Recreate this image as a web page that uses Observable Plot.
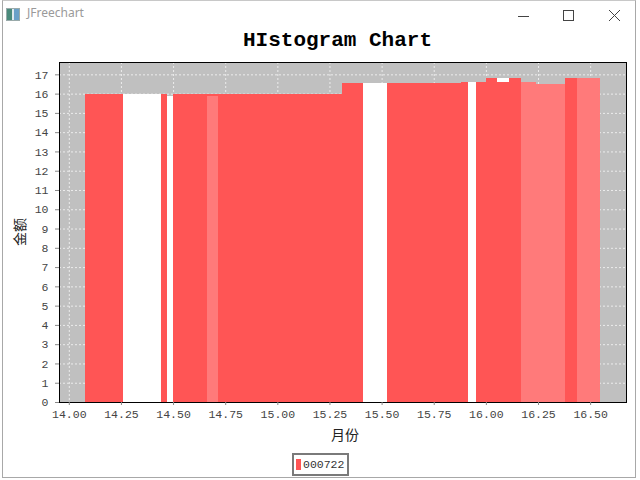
<!DOCTYPE html>
<html>
<head>
<meta charset="utf-8">
<script src="https://cdn.jsdelivr.net/npm/d3@7"></script>
<script src="https://cdn.jsdelivr.net/npm/@observablehq/plot@0.6"></script>
<style>
  html, body { margin: 0; padding: 0; background: #fff; }
  #stage { position: relative; width: 640px; height: 480px; overflow: hidden; background: #fff; }
  #stage > * { position: absolute; }
  .win { left: 2px; top: 0px; width: 632px; height: 476px; border: 1px solid #a8a8a8; border-top-color: #c8c8c8; box-sizing: content-box; }
  .wtitle { left: 27px; top: 5px; font: 12px "Noto Sans", sans-serif; color: #9a9a9a; line-height: 16px; }
  .icon { left: 6px; top: 8px; width: 12px; height: 11px; border: 1px solid #9aa; background: linear-gradient(90deg, #4a8a7a 0 40%, #dfe8ee 40% 60%, #6aa0c8 60%); }
  .title { left: 0; width: 675px; top: 28px; text-align: center; font: bold 21px "Liberation Mono", monospace; color: #000; line-height: 26px; }
  .ylab { left: 5px; top: 224px; font: 14px "Noto Sans CJK SC", sans-serif; color: #222; transform: rotate(-90deg); transform-origin: center; line-height: 16px; }
  .xlab { left: 331px; top: 426px; font: 14px "Noto Sans CJK SC", sans-serif; color: #222; line-height: 16px; }
  .legend { left: 292px; top: 453px; width: 53px; height: 19px; border: 2px solid #7a7a7a; background: #fff; }
  .legend .sw { position: absolute; left: 2px; top: 4px; width: 5px; height: 11px; background: #FF5555; }
  .legend .tx { position: absolute; left: 9px; top: 1px; font: 11.5px "Liberation Mono", monospace; color: #333; line-height: 17px; }
</style>
</head>
<body>
<div id="stage">
  <div class="win"></div>
  <div class="icon"></div>
  <div class="wtitle">JFreechart</div>
  <svg style="left:0;top:0" width="640" height="30">
    <line x1="518" y1="16.5" x2="529" y2="16.5" stroke="#444" stroke-width="1"/>
    <rect x="563.5" y="10.5" width="10" height="10" fill="none" stroke="#444" stroke-width="1"/>
    <line x1="609" y1="10" x2="620" y2="21" stroke="#444" stroke-width="1"/>
    <line x1="620" y1="10" x2="609" y2="21" stroke="#444" stroke-width="1"/>
  </svg>
  <div id="chart" style="left:0;top:0"></div>
  <div class="title">HIstogram Chart</div>
  <div class="ylab">金额</div>
  <div class="xlab">月份</div>
  <div class="legend"><div class="sw"></div><div class="tx">000722</div></div>
</div>
<script>
// ---- data ----
const binStart = [14.077, 14.260, 14.442, 14.471, 14.500, 14.663, 15.308, 15.413, 15.524, 15.880, 15.913, 15.952, 16.000, 16.053, 16.053, 16.111, 16.168, 16.240, 16.380, 16.438];
const binEnd   = [14.260, 14.442, 14.471, 14.500, 15.308, 14.716, 15.413, 15.524, 15.880, 15.913, 15.952, 16.000, 16.053, 16.111, 16.111, 16.168, 16.240, 16.380, 16.438, 16.548];
const binValue = [16.0, 16.0, 16.0, 15.9, 16.0, 15.9, 16.55, 16.55, 16.55, 16.6, 16.6, 16.6, 16.8, 16.8, 16.6, 16.8, 16.6, 16.5, 16.8, 16.8];
const binShade = ["main", "white", "main", "white", "main", "light", "main", "white", "main", "main", "white", "main", "main", "white", "main", "main", "light", "light", "main", "light"];
const xTicks = [14.00, 14.25, 14.50, 14.75, 15.00, 15.25, 15.50, 15.75, 16.00, 16.25, 16.50];
const yTicks = [0, 1, 2, 3, 4, 5, 6, 7, 8, 9, 10, 11, 12, 13, 14, 15, 16, 17];
const shadeNames = ["main", "light", "white"];
const shadeColors = ["#FF5555", "#FF7A7A", "#FFFFFF"];

const bins = binStart.map((s, i) => ({x1: s, x2: binEnd[i], v: binValue[i], shade: binShade[i]}));

const chart = Plot.plot({
  width: 640,
  height: 480,
  marginLeft: 59,
  marginRight: 14,
  marginTop: 62,
  marginBottom: 78,
  style: {background: "transparent", fontFamily: "'Liberation Mono', monospace", fontSize: "11.5px", color: "#444"},
  x: {domain: [13.953, 16.672]},
  y: {domain: [0, 17.64]},
  color: {domain: shadeNames, range: shadeColors},
  marks: [
    Plot.frame({fill: "#C0C0C0", stroke: null}),
    Plot.gridX(xTicks, {stroke: "#ececec", strokeOpacity: 1, strokeDasharray: "2,2"}),
    Plot.gridY(yTicks, {stroke: "#ececec", strokeOpacity: 1, strokeDasharray: "2,2"}),
    Plot.rect(bins, {x1: "x1", x2: "x2", y1: 0, y2: "v", fill: "shade", inset: 0, shapeRendering: "crispEdges"}),
    Plot.frame({stroke: "#000", strokeWidth: 1}),
    Plot.axisX(xTicks, {tickFormat: d => d.toFixed(2), tickSize: 3, tickPadding: 4, stroke: "#888", fill: "#444", label: null}),
    Plot.axisY(yTicks, {tickFormat: d => String(d), tickSize: 4, tickPadding: 7, stroke: "#888", fill: "#444", label: null})
  ]
});
document.getElementById("chart").appendChild(chart);
</script>
</body>
</html>
